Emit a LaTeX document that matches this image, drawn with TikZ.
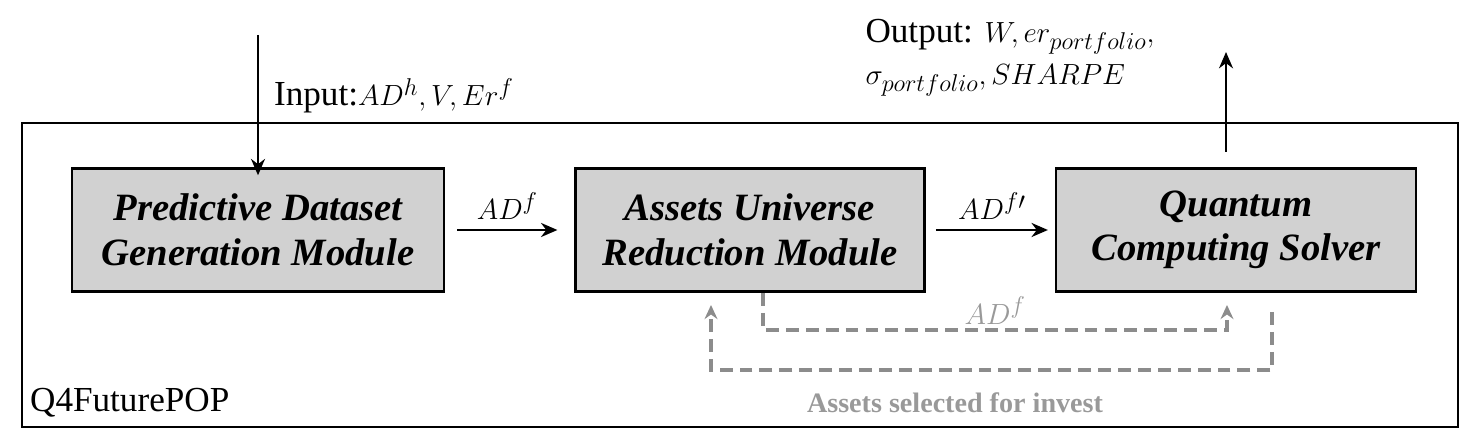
\documentclass[tikz,border=0pt]{standalone}
\usepackage{fontspec}
\setmainfont{Liberation Serif}
\usetikzlibrary{arrows.meta}
\begin{document}
\begin{tikzpicture}[x=0.03cm,y=-0.03cm,
    module/.style={rectangle, draw=black, fill=black!18, line width=2.4pt, minimum width=10.8cm, minimum height=3.7cm, align=center, font=\fontsize{33}{38}\selectfont\bfseries\itshape},
    arrow/.style={-{Stealth[length=14pt,width=12pt]}, line width=2.4pt},
    feedback/.style={-{Stealth[length=12pt,width=11pt]}, dash pattern=on 11pt off 6pt, line width=3pt, black!45},
    label/.style={font=\fontsize{30}{36}\selectfont}
]
\useasboundingbox (0,0) rectangle (1476,433);

% Frame
\node[draw=black, line width=2.4pt, minimum width=43.08cm, minimum height=9.12cm] (frame) at (740,275) {};
\node[label, anchor=west] (name) at (26,403) {Q4FuturePOP};

% Modules
\node[module, minimum width=11.16cm] (predict) at (258,230) {Predictive Dataset\\Generation Module};
\node[module, minimum width=10.47cm] (reduce) at (750,230) {Assets Universe\\Reduction Module};
\node[module, minimum width=10.8cm] (solver) at (1236,230) {Quantum\\Computing Solver};

% Input / output
\coordinate (in) at (258,35);
\draw[arrow, line width=1.5pt] (in) -- ([yshift=-0.25cm]predict.north);
\node[label, anchor=west] (input) at (270,96) {Input:$AD^h, V, Er^f$};
\coordinate (out) at (1226,52);
\draw[arrow, line width=1.5pt] (1226,152) -- (out);
\node[label, align=left] (output) at (1010,58) {Output: $W, er_{portfolio},$\\$\sigma_{portfolio}, SHARPE$};

% Forward connections
\draw[arrow] ([xshift=0.35cm]predict.east) -- node[label, above=4pt] {$AD^f$} ([xshift=-0.5cm]reduce.west);
\draw[arrow] ([xshift=0.3cm]reduce.east) -- node[label, above=4pt] {$AD^{f\prime}$} ([xshift=-0.2cm]solver.west);

% Feedback connections
\draw[feedback] (reduce.south -| 763,0) -- (763,330) -- node[label, black!40, above=0pt] {$AD^f$} (1227,330) -- (1227,305);
\draw[feedback] (1272,312) -- (1272,370) -- (711,370) -- (711,305);
\node[black!40, font=\fontsize{24}{28}\selectfont\bfseries] (invest) at (955,403) {Assets selected for invest};
\end{tikzpicture}
\end{document}
